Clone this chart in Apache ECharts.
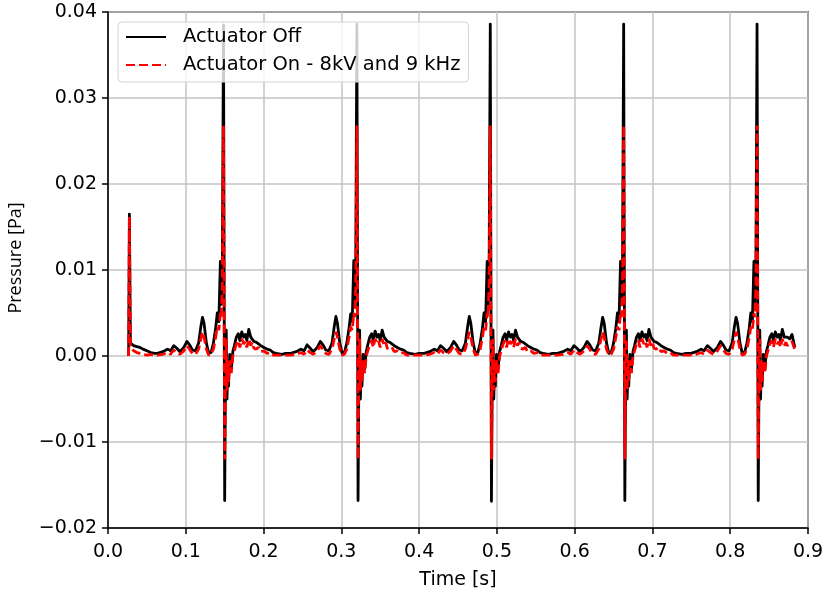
<!DOCTYPE html>
<html>
<head>
<meta charset="utf-8">
<script src="https://cdn.jsdelivr.net/npm/echarts@6/dist/echarts.min.js"></script>
<style>
html,body{margin:0;padding:0;background:#fff;}
#chart{width:828px;height:595px;}
</style>
</head>
<body>
<div id="chart"></div>
<script>
// Time samples [s] (intro, then one line per pressure cycle)
const time = [
0.0265,0.0275,0.0288,0.0330,0.0370,0.0410,0.0450,0.0500,0.0550,0.0600,
0.0635,0.0705,0.0765,0.0805,0.0845,0.0885,0.0925,0.0975,0.1015,0.1055,0.1085,0.1125,0.1165,0.1195,0.1215,0.1235,0.1265,0.1295,0.1325,0.1355,0.1385,0.1405,0.1425,0.1445,0.1455,0.1470,0.1485,0.1493,0.1500,0.1510,0.1520,0.1530,0.1540,0.1550,0.1565,0.1585,0.1605,0.1625,0.1650,0.1675,0.1695,0.1720,0.1745,0.1765,0.1785,0.1810,0.1835,0.1855,0.1875,0.1905,0.1935,0.1965,0.2005,0.2045,0.2085,0.2125,0.2165,0.2235,0.2285,
0.2350,0.2420,0.2480,0.2520,0.2560,0.2600,0.2640,0.2690,0.2730,0.2770,0.2800,0.2840,0.2880,0.2910,0.2930,0.2950,0.2980,0.3010,0.3040,0.3070,0.3100,0.3120,0.3140,0.3160,0.3170,0.3185,0.3200,0.3208,0.3215,0.3225,0.3235,0.3245,0.3255,0.3265,0.3280,0.3300,0.3320,0.3340,0.3365,0.3390,0.3410,0.3435,0.3460,0.3480,0.3500,0.3525,0.3550,0.3570,0.3590,0.3620,0.3650,0.3680,0.3720,0.3760,0.3800,0.3840,0.3880,0.3950,0.4000,
0.4065,0.4135,0.4195,0.4235,0.4275,0.4315,0.4355,0.4405,0.4445,0.4485,0.4515,0.4555,0.4595,0.4625,0.4645,0.4665,0.4695,0.4725,0.4755,0.4785,0.4815,0.4835,0.4855,0.4875,0.4885,0.4900,0.4915,0.4923,0.4930,0.4940,0.4950,0.4960,0.4970,0.4980,0.4995,0.5015,0.5035,0.5055,0.5080,0.5105,0.5125,0.5150,0.5175,0.5195,0.5215,0.5240,0.5265,0.5285,0.5305,0.5335,0.5365,0.5395,0.5435,0.5475,0.5515,0.5555,0.5595,0.5665,0.5715,
0.5780,0.5850,0.5910,0.5950,0.5990,0.6030,0.6070,0.6120,0.6160,0.6200,0.6230,0.6270,0.6310,0.6340,0.6360,0.6380,0.6410,0.6440,0.6470,0.6500,0.6530,0.6550,0.6570,0.6590,0.6600,0.6615,0.6630,0.6638,0.6645,0.6655,0.6665,0.6675,0.6685,0.6695,0.6710,0.6730,0.6750,0.6770,0.6795,0.6820,0.6840,0.6865,0.6890,0.6910,0.6930,0.6955,0.6980,0.7000,0.7020,0.7050,0.7080,0.7110,0.7150,0.7190,0.7230,0.7270,0.7310,0.7380,0.7430,
0.7495,0.7565,0.7625,0.7665,0.7705,0.7745,0.7785,0.7835,0.7875,0.7915,0.7945,0.7985,0.8025,0.8055,0.8075,0.8095,0.8125,0.8155,0.8185,0.8215,0.8245,0.8265,0.8285,0.8305,0.8315,0.8330,0.8345,0.8353,0.8360,0.8370,0.8380,0.8390,0.8400,0.8410,0.8425,0.8445,0.8465,0.8485,0.8510,0.8535,0.8555,0.8580,0.8605,0.8625,0.8645,0.8670,0.8695,0.8715,0.8735,0.8765,0.8795,0.8830
];

// Pressure [Pa], actuator off
const pressureOff = [
0.0000,0.0165,0.0015,0.0012,0.0011,0.0010,0.0008,0.0006,0.0004,0.0003,
0.0003,0.0005,0.0008,0.0006,0.0012,0.0009,0.0005,0.0010,0.0017,0.0012,0.0007,0.0006,0.0015,0.0035,0.0045,0.0038,0.0015,0.0003,0.0004,0.0015,0.0033,0.0050,0.0040,0.0110,0.0060,0.0100,0.0385,0.0100,-0.0168,-0.0030,0.0030,-0.0050,-0.0010,-0.0035,0.0002,-0.0015,0.0005,0.0012,0.0022,0.0026,0.0018,0.0028,0.0022,0.0025,0.0018,0.0031,0.0022,0.0024,0.0017,0.0016,0.0014,0.0012,0.0010,0.0008,0.0007,0.0004,0.0003,0.0002,0.0003,
0.0003,0.0005,0.0008,0.0006,0.0013,0.0009,0.0005,0.0010,0.0017,0.0012,0.0007,0.0006,0.0015,0.0035,0.0046,0.0038,0.0015,0.0003,0.0004,0.0015,0.0033,0.0049,0.0040,0.0111,0.0060,0.0100,0.0386,0.0100,-0.0168,-0.0030,0.0030,-0.0050,-0.0010,-0.0035,0.0002,-0.0015,0.0005,0.0013,0.0022,0.0026,0.0018,0.0029,0.0022,0.0025,0.0018,0.0030,0.0022,0.0024,0.0017,0.0016,0.0014,0.0012,0.0010,0.0008,0.0007,0.0004,0.0003,0.0002,0.0003,
0.0003,0.0005,0.0008,0.0006,0.0012,0.0009,0.0005,0.0010,0.0017,0.0012,0.0007,0.0006,0.0015,0.0035,0.0046,0.0038,0.0015,0.0003,0.0004,0.0015,0.0033,0.0050,0.0040,0.0110,0.0060,0.0100,0.0386,0.0100,-0.0169,-0.0030,0.0030,-0.0050,-0.0010,-0.0035,0.0002,-0.0015,0.0005,0.0012,0.0022,0.0026,0.0018,0.0028,0.0022,0.0025,0.0018,0.0030,0.0022,0.0024,0.0017,0.0016,0.0014,0.0012,0.0010,0.0008,0.0007,0.0004,0.0003,0.0002,0.0003,
0.0003,0.0005,0.0008,0.0006,0.0012,0.0009,0.0005,0.0010,0.0017,0.0012,0.0007,0.0006,0.0015,0.0034,0.0045,0.0038,0.0015,0.0003,0.0004,0.0015,0.0033,0.0050,0.0040,0.0110,0.0060,0.0100,0.0386,0.0100,-0.0168,-0.0030,0.0030,-0.0050,-0.0010,-0.0035,0.0002,-0.0015,0.0005,0.0012,0.0022,0.0026,0.0018,0.0028,0.0022,0.0025,0.0018,0.0031,0.0022,0.0024,0.0017,0.0016,0.0014,0.0012,0.0010,0.0008,0.0007,0.0004,0.0003,0.0002,0.0003,
0.0003,0.0005,0.0008,0.0006,0.0012,0.0009,0.0005,0.0010,0.0017,0.0012,0.0007,0.0006,0.0015,0.0035,0.0045,0.0038,0.0015,0.0003,0.0004,0.0015,0.0033,0.0050,0.0040,0.0110,0.0060,0.0100,0.0386,0.0100,-0.0168,-0.0030,0.0030,-0.0050,-0.0010,-0.0035,0.0002,-0.0015,0.0005,0.0012,0.0022,0.0026,0.0018,0.0028,0.0022,0.0025,0.0018,0.0031,0.0022,0.0024,0.0022,0.0020,0.0025,0.0010
];

// Pressure [Pa], actuator on - 8 kV and 9 kHz
const pressureOn = [
0.0000,0.0162,0.0010,0.0006,0.0004,0.0003,0.0002,0.0001,0.0002,0.0001,
0.0001,0.0002,0.0004,0.0002,0.0007,0.0004,0.0002,0.0006,0.0012,0.0007,0.0003,0.0002,0.0008,0.0020,0.0028,0.0022,0.0008,0.0001,0.0002,0.0008,0.0022,0.0034,0.0030,0.0050,0.0045,0.0080,0.0268,0.0060,-0.0120,-0.0020,0.0020,-0.0040,-0.0005,-0.0030,-0.0005,-0.0020,0.0000,0.0006,0.0014,0.0018,0.0010,0.0020,0.0014,0.0017,0.0010,0.0020,0.0012,0.0016,0.0009,0.0008,0.0010,0.0005,0.0006,0.0003,0.0004,0.0001,0.0001,0.0001,0.0001,
0.0001,0.0002,0.0004,0.0002,0.0007,0.0004,0.0002,0.0006,0.0012,0.0007,0.0003,0.0002,0.0008,0.0020,0.0028,0.0022,0.0008,0.0001,0.0002,0.0008,0.0022,0.0034,0.0030,0.0050,0.0045,0.0080,0.0268,0.0060,-0.0120,-0.0020,0.0020,-0.0040,-0.0005,-0.0030,-0.0005,-0.0020,0.0000,0.0006,0.0014,0.0018,0.0010,0.0020,0.0014,0.0017,0.0010,0.0020,0.0012,0.0016,0.0009,0.0008,0.0010,0.0005,0.0006,0.0003,0.0004,0.0001,0.0001,0.0001,0.0001,
0.0001,0.0002,0.0004,0.0002,0.0007,0.0004,0.0002,0.0006,0.0012,0.0007,0.0003,0.0002,0.0008,0.0020,0.0028,0.0022,0.0008,0.0001,0.0002,0.0008,0.0022,0.0034,0.0030,0.0050,0.0045,0.0080,0.0268,0.0060,-0.0120,-0.0020,0.0020,-0.0040,-0.0005,-0.0030,-0.0005,-0.0020,0.0000,0.0006,0.0014,0.0018,0.0010,0.0020,0.0014,0.0017,0.0010,0.0020,0.0012,0.0016,0.0009,0.0008,0.0010,0.0005,0.0006,0.0003,0.0004,0.0001,0.0001,0.0001,0.0001,
0.0001,0.0002,0.0004,0.0002,0.0007,0.0004,0.0002,0.0006,0.0012,0.0007,0.0003,0.0002,0.0008,0.0020,0.0028,0.0022,0.0008,0.0001,0.0002,0.0008,0.0022,0.0034,0.0030,0.0050,0.0045,0.0080,0.0268,0.0060,-0.0120,-0.0020,0.0020,-0.0040,-0.0005,-0.0030,-0.0005,-0.0020,0.0000,0.0006,0.0014,0.0018,0.0010,0.0020,0.0014,0.0017,0.0010,0.0020,0.0012,0.0016,0.0009,0.0008,0.0010,0.0005,0.0006,0.0003,0.0004,0.0001,0.0001,0.0001,0.0001,
0.0001,0.0002,0.0004,0.0002,0.0007,0.0004,0.0002,0.0006,0.0012,0.0007,0.0003,0.0002,0.0008,0.0020,0.0028,0.0022,0.0008,0.0001,0.0002,0.0008,0.0022,0.0034,0.0030,0.0050,0.0045,0.0080,0.0268,0.0060,-0.0120,-0.0020,0.0020,-0.0040,-0.0005,-0.0030,-0.0005,-0.0020,0.0000,0.0006,0.0014,0.0018,0.0010,0.0020,0.0014,0.0017,0.0010,0.0020,0.0012,0.0016,0.0012,0.0014,0.0017,0.0007
];

const seriesNames = ['Actuator Off', 'Actuator On - 8kV and 9 kHz'];
const xTicks = [0.0, 0.1, 0.2, 0.3, 0.4, 0.5, 0.6, 0.7, 0.8, 0.9];
const yTicks = [-0.02, -0.01, 0.00, 0.01, 0.02, 0.03, 0.04];
const xTitle = 'Time [s]';
const yTitle = 'Pressure [Pa]';

if (time.length !== pressureOff.length || time.length !== pressureOn.length) {
  console.error('length mismatch', time.length, pressureOff.length, pressureOn.length);
}

const FONT = 'DejaVu Sans';
const chart = echarts.init(document.getElementById('chart'), null, {renderer: 'canvas'});

const fmtY = v => {
  const r = Math.round(v * 100) / 100;
  if (r === 0) return '0.00';
  return (r < 0 ? '\u2212' : '') + Math.abs(r).toFixed(2);
};

chart.setOption({
  animation: false,
  backgroundColor: '#fff',
  grid: {
    left: 108, right: 20, top: 12, bottom: 67,
    show: true, borderColor: '#000', borderWidth: 1.5, backgroundColor: 'transparent'
  },
  legend: {
    orient: 'vertical',
    left: 118, top: 22,
    padding: [5, 8, 7, 7],
    itemWidth: 40, itemHeight: 14, itemGap: 8,
    itemStyle: {color: 'rgba(0,0,0,0)', borderWidth: 0, opacity: 0},
    backgroundColor: 'rgba(255,255,255,0.8)',
    borderColor: '#d3d3d3', borderWidth: 1, borderRadius: 4,
    textStyle: {fontFamily: FONT, fontSize: 19.5, color: '#000', lineHeight: 20, padding: [0, 0, 0, 12]},
    data: seriesNames
  },
  xAxis: {
    type: 'value',
    min: xTicks[0], max: xTicks[xTicks.length - 1], interval: 0.1,
    name: xTitle, nameLocation: 'middle', nameGap: 43,
    nameTextStyle: {fontFamily: FONT, fontSize: 19, color: '#000'},
    axisLine: {show: true, onZero: false, lineStyle: {color: '#000', width: 1.5}},
    axisTick: {show: true, length: 6, lineStyle: {color: '#000', width: 1.5}},
    axisLabel: {fontFamily: FONT, fontSize: 19, color: '#000', margin: 15,
      formatter: v => (Math.round(v * 10) / 10).toFixed(1)},
    splitLine: {show: true, lineStyle: {color: '#c4c4c4', width: 1.5}}
  },
  yAxis: {
    type: 'value',
    min: yTicks[0], max: yTicks[yTicks.length - 1], interval: 0.01,
    axisLine: {show: true, onZero: false, lineStyle: {color: '#000', width: 1.5}},
    axisTick: {show: true, length: 6, lineStyle: {color: '#000', width: 1.5}},
    axisLabel: {fontFamily: FONT, fontSize: 19, color: '#000', margin: 11, formatter: fmtY},
    splitLine: {show: true, lineStyle: {color: '#c4c4c4', width: 1.5}}
  },
  graphic: [{
    type: 'text', x: 16, y: 258, rotation: Math.PI / 2,
    style: {text: yTitle, fontFamily: 'Open Sans', fontSize: 18, fill: '#000',
      textAlign: 'center', textVerticalAlign: 'middle'}
  }],
  series: [
    {
      name: seriesNames[0], type: 'line', showSymbol: false, symbol: 'none',
      data: time.map((t, i) => [t, pressureOff[i]]),
      lineStyle: {color: '#000', width: 2.8, join: 'round'},
      itemStyle: {color: '#000'},
      z: 2
    },
    {
      name: seriesNames[1], type: 'line', showSymbol: false, symbol: 'none',
      data: time.map((t, i) => [t, pressureOn[i]]),
      lineStyle: {color: '#ff0000', width: 2.8, type: [9, 4]},
      itemStyle: {color: '#ff0000'},
      z: 3
    }
  ]
});
</script>
</body>
</html>
